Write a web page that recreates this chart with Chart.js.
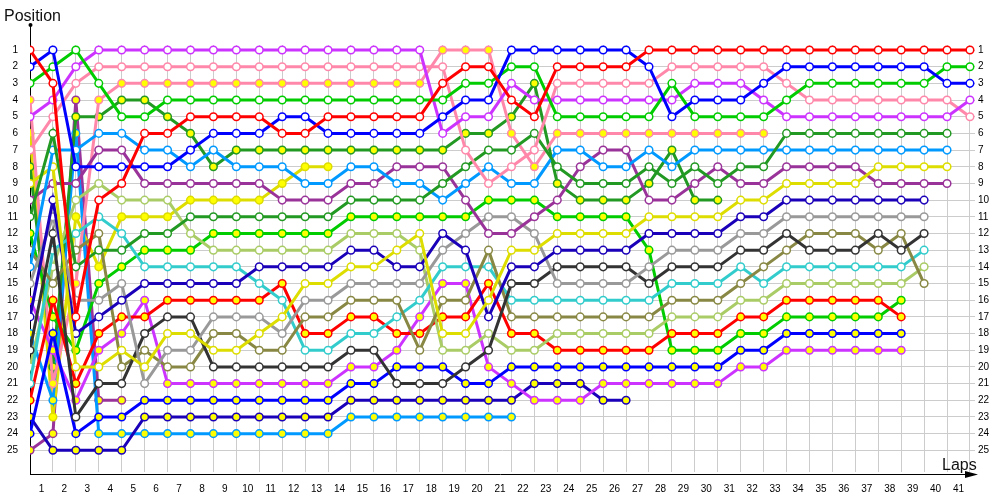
<!DOCTYPE html>
<html>
<head>
<meta charset="utf-8">
<script src="https://cdn.jsdelivr.net/npm/chart.js@4.4.1/dist/chart.umd.min.js"></script>
<style>
html, body { margin: 0; padding: 0; background: #fff; }
#wrap { width: 1000px; height: 500px; }
</style>
</head>
<body>
<div id="wrap"><canvas id="lapChart"></canvas></div>
<script>
// tick labels
const lapLabels = ['1','2','3','4','5','6','7','8','9','10','11','12','13','14','15','16','17','18','19','20',
    '21','22','23','24','25','26','27','28','29','30','31','32','33','34','35','36','37','38','39','40','41'];
const posLabels = [1,2,3,4,5,6,7,8,9,10,11,12,13,14,15,16,17,18,19,20,21,22,23,24,25];

// position per lap, index 0 = start grid
const redW      = [1,3,17,10,9,6,6,5,5,5,5,6,6,5,5,5,5,5,3,2,2,4,5,2,2,2,2,1,1,1,1,1,1,1,1,1,1,1,1,1,1,1];
const blueW     = [2,1,8,8,8,8,8,7,6,6,6,5,5,6,6,6,6,6,5,4,4,1,1,1,1,1,1,2,5,4,4,4,3,2,2,2,2,2,2,2,3,3];
const limeW     = [3,2,1,3,5,5,4,4,4,4,4,4,4,4,4,4,4,4,4,3,3,2,2,5,5,5,5,5,3,5,5,5,5,4,3,3,3,3,3,3,2,2];
const violetW   = [5,4,2,1,1,1,1,1,1,1,1,1,1,1,1,1,1,1,6,5,5,3,4,4,4,4,4,4,4,3,3,3,4,5,5,5,5,5,5,5,5,4];
const pinkW     = [7,5,3,2,2,2,2,2,2,2,2,2,2,2,2,2,2,2,2,7,9,8,7,3,3,3,3,3,2,2,2,2,2,3,4,4,4,4,4,4,4,5];
const dkgreenW  = [11,6,14,13,13,12,12,11,11,11,11,11,11,11,10,10,10,10,9,8,7,7,6,8,9,9,9,8,9,8,9,8,8,6,6,6,6,6,6,6,6];
const ltblueW   = [14,7,7,6,6,7,7,8,7,8,8,8,9,9,8,8,9,9,10,9,8,9,9,7,7,8,8,7,8,7,7,7,7,7,7,7,7,7,7,7,7];
const yellowW   = [9,8,20,20,19,20,18,18,19,19,18,17,15,15,14,14,13,12,18,18,16,13,13,12,12,12,12,11,11,11,11,10,10,9,9,9,9,8,8,8,8];
const dkpurpleW = [10,9,9,7,7,9,9,9,9,9,9,10,10,10,9,9,8,8,8,10,12,12,11,10,8,7,7,10,10,9,8,9,9,8,8,8,8,9,9,9,9];
const navyW     = [17,10,18,17,16,15,15,15,15,15,14,14,14,14,13,13,14,14,12,13,17,14,14,13,13,13,13,12,12,12,12,11,11,10,10,10,10,10,10,10];
const grayW     = [15,11,16,16,15,21,19,19,17,17,17,18,16,16,15,15,15,15,13,12,11,11,12,15,15,15,15,14,13,13,13,12,12,11,11,11,11,11,11,11];
const blackW    = [19,12,23,21,21,18,17,17,20,20,20,20,20,20,19,19,21,21,21,20,19,15,15,14,14,14,14,15,14,14,14,13,13,12,13,13,13,12,13,12];
const oliveW    = [13,15,13,12,20,19,20,20,18,18,19,19,17,17,16,16,16,19,16,16,13,17,17,17,17,17,17,17,16,16,16,15,14,13,12,12,12,13,12,15];
const cyanW     = [21,13,12,11,12,14,14,14,14,14,15,16,19,19,18,18,17,16,14,14,14,16,16,16,16,16,16,16,15,15,15,14,15,14,14,14,14,14,14,13];
const ltoliveW  = [20,14,10,9,10,10,10,12,13,13,13,13,13,13,12,12,12,13,19,19,18,19,19,18,18,18,18,18,17,17,17,16,16,15,15,15,15,15,15,14];
const redY      = [22,16,21,18,17,17,16,16,16,16,16,15,18,18,17,17,18,18,17,17,15,18,18,19,19,19,19,19,18,18,18,17,17,16,16,16,16,16,17];
const limeY     = [12,17,19,15,14,13,13,13,12,12,12,12,12,12,11,11,11,11,11,11,10,10,10,11,11,11,11,13,19,19,19,18,18,17,17,17,17,17,16];
const blueY     = [24,18,24,23,23,22,22,22,22,22,22,22,22,22,21,21,20,20,20,21,21,20,20,20,20,20,20,20,20,20,20,19,19,18,18,18,18,18,18];
const violetY   = [16,19,22,19,18,16,21,21,21,21,21,21,21,21,20,20,19,17,15,15,20,21,22,22,22,21,21,21,21,21,21,20,20,19,19,19,19,19,19];
const pinkY     = [4,21,15,4,3,3,3,3,3,3,3,3,3,3,3,3,3,3,1,1,1,6,8,6,6,6,6,6,6,6,6,6,6];
const dkgreenY  = [8,20,5,5,4,4,5,6,8,7,7,7,7,7,7,7,7,7,7,6,6,5,3,9,10,10,10,9,7,10,10];
const navyY     = [23,25,25,25,25,23,23,23,23,23,23,23,23,23,22,22,22,22,22,22,22,22,21,21,21,22,22];
const ltblueY   = [18,22,6,24,24,24,24,24,24,24,24,24,24,24,23,23,23,23,23,23,23,23];
const yellowY   = [6,23,11,14,11,11,11,10,10,10,10,9,8,8];
const dkpurpleY = [25,24,4,22,22];

const WHITE = '#ffffff';
const YEL = '#ffff00';
const drivers = [
    { pos: redW, color: '#ff0000', dot: WHITE },
    { pos: blueW, color: '#0000ff', dot: WHITE },
    { pos: limeW, color: '#00cc00', dot: WHITE },
    { pos: violetW, color: '#cc33ff', dot: WHITE },
    { pos: pinkW, color: '#ff88aa', dot: WHITE },
    { pos: dkgreenW, color: '#229922', dot: WHITE },
    { pos: ltblueW, color: '#0099ff', dot: WHITE },
    { pos: yellowW, color: '#dddd00', dot: WHITE },
    { pos: dkpurpleW, color: '#993399', dot: WHITE },
    { pos: navyW, color: '#1a00b8', dot: WHITE },
    { pos: grayW, color: '#999999', dot: WHITE },
    { pos: blackW, color: '#333333', dot: WHITE },
    { pos: oliveW, color: '#888844', dot: WHITE },
    { pos: cyanW, color: '#33cccc', dot: WHITE },
    { pos: ltoliveW, color: '#aacc66', dot: WHITE },
    { pos: redY, color: '#ff0000', dot: YEL },
    { pos: limeY, color: '#00cc00', dot: YEL },
    { pos: blueY, color: '#0000ff', dot: YEL },
    { pos: violetY, color: '#cc33ff', dot: YEL },
    { pos: pinkY, color: '#ff88aa', dot: YEL },
    { pos: dkgreenY, color: '#229922', dot: YEL },
    { pos: navyY, color: '#1a00b8', dot: YEL },
    { pos: ltblueY, color: '#0099ff', dot: YEL },
    { pos: yellowY, color: '#dddd00', dot: YEL },
    { pos: dkpurpleY, color: '#993399', dot: YEL }
];

const tickFont = { family: 'Liberation Sans', size: 10 };

// axis arrows and titles
const axisDeco = {
    id: 'axisDeco',
    beforeDatasetsDraw(chart) {
        const ctx = chart.ctx, a = chart.chartArea;
        ctx.save();
        ctx.strokeStyle = '#000';
        ctx.fillStyle = '#000';
        ctx.lineWidth = 1;
        ctx.beginPath();
        ctx.moveTo(a.left + 0.5, a.bottom + 3);
        ctx.lineTo(a.left + 0.5, 25);
        ctx.moveTo(a.left, a.bottom + 2.5);
        ctx.lineTo(a.right - 4, a.bottom + 2.5);
        ctx.stroke();
        ctx.beginPath();
        ctx.arc(a.left + 0.5, 25, 2, 0, Math.PI * 2);
        ctx.fill();
        ctx.beginPath();
        ctx.moveTo(a.right - 10, a.bottom - 1);
        ctx.lineTo(a.right + 3, a.bottom + 2.5);
        ctx.lineTo(a.right - 10, a.bottom + 6);
        ctx.closePath();
        ctx.fill();
        ctx.font = '16px "Liberation Sans"';
        ctx.textBaseline = 'alphabetic';
        ctx.textAlign = 'left';
        ctx.fillStyle = '#111';
        ctx.fillText('Position', 4, 21);
        ctx.fillText('Laps', 942, 470);
        ctx.restore();
    }
};

const lapChart = new Chart(document.getElementById('lapChart'), {
    type: 'line',
    data: {
        datasets: drivers.map(d => ({
            data: d.pos.map((p, i) => ({ x: i, y: p })),
            borderColor: d.color,
            borderWidth: 3,
            pointRadius: 3.8,
            pointBorderWidth: 1.5,
            pointBorderColor: d.color,
            pointBackgroundColor: d.dot,
            tension: 0,
            fill: false
        }))
    },
    options: {
        responsive: true,
        maintainAspectRatio: false,
        animation: false,
        layout: { padding: { top: 45 } },
        plugins: { legend: { display: false }, tooltip: { enabled: false } },
        scales: {
            x: {
                type: 'linear',
                min: 0,
                max: 41.22,
                border: { display: false },
                grid: {
                    drawTicks: false,
                    color: c => Number.isInteger(c.tick.value) ? '#cccccc' : 'rgba(0,0,0,0)'
                },
                afterBuildTicks: scale => {
                    const t = [];
                    for (let i = 0; i <= lapLabels.length; i++) {
                        t.push({ value: i });
                        if (i < lapLabels.length) t.push({ value: i + 0.5 });
                    }
                    scale.ticks = t;
                },
                afterFit: scale => { scale.height = 28; },
                ticks: {
                    autoSkip: false,
                    maxRotation: 0,
                    padding: 11,
                    color: '#000',
                    font: tickFont,
                    callback: v => Number.isInteger(v) ? '' : lapLabels[v - 0.5]
                }
            },
            y: {
                type: 'linear',
                reverse: true,
                min: 0.7,
                max: 26.3,
                border: { display: false },
                grid: { drawTicks: false, color: '#cccccc' },
                afterBuildTicks: scale => { scale.ticks = posLabels.map(v => ({ value: v })); },
                afterFit: scale => { scale.width = 30; },
                ticks: { padding: 12, color: '#000', font: tickFont }
            },
            y2: {
                type: 'linear',
                position: 'right',
                reverse: true,
                min: 0.7,
                max: 26.3,
                border: { display: false },
                grid: { display: false, drawTicks: false },
                afterBuildTicks: scale => { scale.ticks = posLabels.map(v => ({ value: v })); },
                afterFit: scale => { scale.width = 25; },
                ticks: { padding: 3, color: '#000', font: tickFont }
            }
        }
    },
    plugins: [axisDeco]
});
</script>
</body>
</html>
